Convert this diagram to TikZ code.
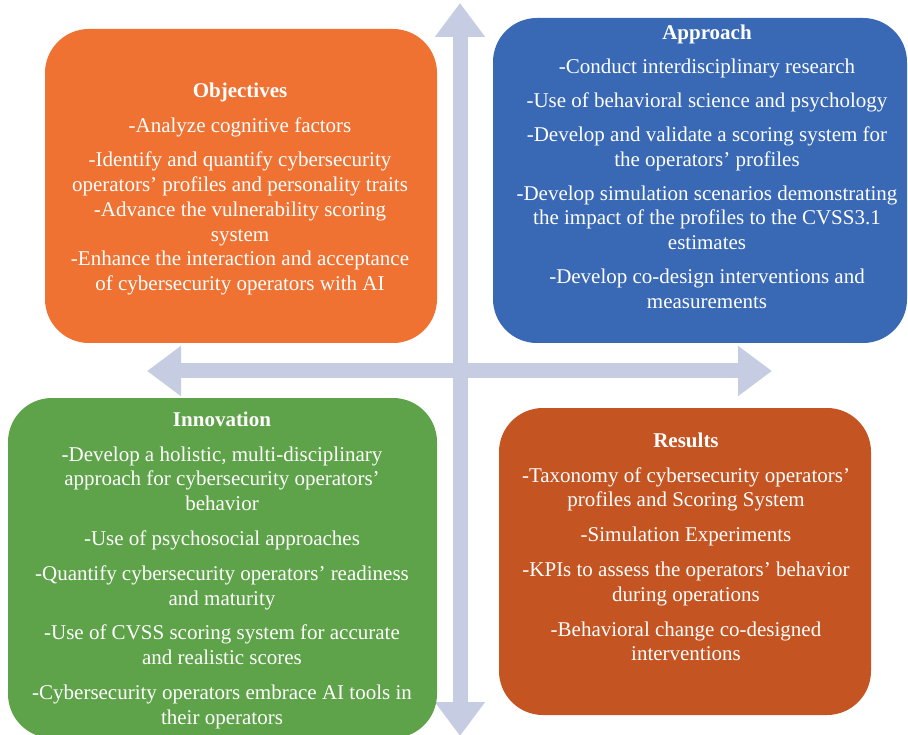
\documentclass[tikz,border=0pt]{standalone}
\usepackage{fontspec}
\setmainfont{Liberation Serif}
\usetikzlibrary{arrows.meta}

\definecolor{objorange}{RGB}{239,114,51}
\definecolor{appblue}{RGB}{57,104,181}
\definecolor{innogreen}{RGB}{94,163,73}
\definecolor{resrust}{RGB}{196,84,34}
\definecolor{axislav}{RGB}{198,205,227}

\tikzset{
  quad/.style={rectangle, rounded corners=44pt, inner sep=0pt, draw=none},
  quadtext/.style={anchor=north, inner sep=0pt, align=center, text=white,
    font={\fontsize{21}{24.7}\selectfont}},
  axis/.style={draw=axislav, line width=15pt,
    {Triangle[length=34pt,width=48pt]}-{Triangle[length=34pt,width=48pt]}},
}
\newcommand{\firstline}{\rule{0pt}{16pt}}
\newcommand{\gapline}{\\[10.2pt]}
\newcommand{\tightgap}{\\[9.4pt]}

\begin{document}
\begin{tikzpicture}[x=1pt,y=-1pt]
  \useasboundingbox (0,0) rectangle (908,735);
  \fill[white] (0,0) rectangle (908,735);

  % axes: a vertical and a horizontal double arrow
  \coordinate (axtop) at (460,3);
  \coordinate (axbottom) at (460,736);
  \coordinate (axleft) at (147,371);
  \coordinate (axright) at (772,371);
  \draw[axis] (axtop) -- (axbottom);
  \draw[axis] (axleft) -- (axright);

  % quadrant boxes
  \node[quad, fill=objorange, minimum width=392pt, minimum height=314pt] (obj) at (241,186) {};
  \node[quad, fill=appblue, minimum width=414pt, minimum height=325pt] (app) at (700,180.5) {};
  \node[quad, fill=innogreen, minimum width=429pt, minimum height=340pt] (inno) at (222.5,568) {};
  \node[quad, fill=resrust, minimum width=372pt, minimum height=307pt] (res) at (685,561.5) {};

  % quadrant texts
  \node[quadtext] (objtxt) at (240,81) {\firstline\textbf{Objectives}\gapline
    -Analyze cognitive factors\gapline
    -Identify and quantify cybersecurity\\
    operators’ profiles and personality traits\\
    -Advance the vulnerability scoring\\
    system\\
    -Enhance the interaction and acceptance\\
    of cybersecurity operators with AI};

  \node[quadtext] (apptxt) at (707,23) {\firstline\textbf{Approach}\tightgap
    -Conduct interdisciplinary research\tightgap
    -Use of behavioral science and psychology\tightgap
    -Develop and validate a scoring system for\\
    the operators’ profiles\tightgap
    -Develop simulation scenarios demonstrating\\
    the impact of the profiles to the CVSS3.1\\
    estimates\tightgap
    -Develop co-design interventions and\\
    measurements};

  \node[quadtext] (innotxt) at (222,410) {\firstline\textbf{Innovation}\gapline
    -Develop a holistic, multi-disciplinary\\
    approach for cybersecurity operators’\\
    behavior\gapline
    -Use of psychosocial approaches\gapline
    -Quantify cybersecurity operators’ readiness\\
    and maturity\gapline
    -Use of CVSS scoring system for accurate\\
    and realistic scores\gapline
    -Cybersecurity operators embrace AI tools in\\
    their operators};

  \node[quadtext] (restxt) at (686,431) {\firstline\textbf{Results}\gapline
    -Taxonomy of cybersecurity operators’\\
    profiles and Scoring System\gapline
    -Simulation Experiments\gapline
    -KPIs to assess the operators’ behavior\\
    during operations\gapline
    -Behavioral change co-designed\\
    interventions};
\end{tikzpicture}
\end{document}
